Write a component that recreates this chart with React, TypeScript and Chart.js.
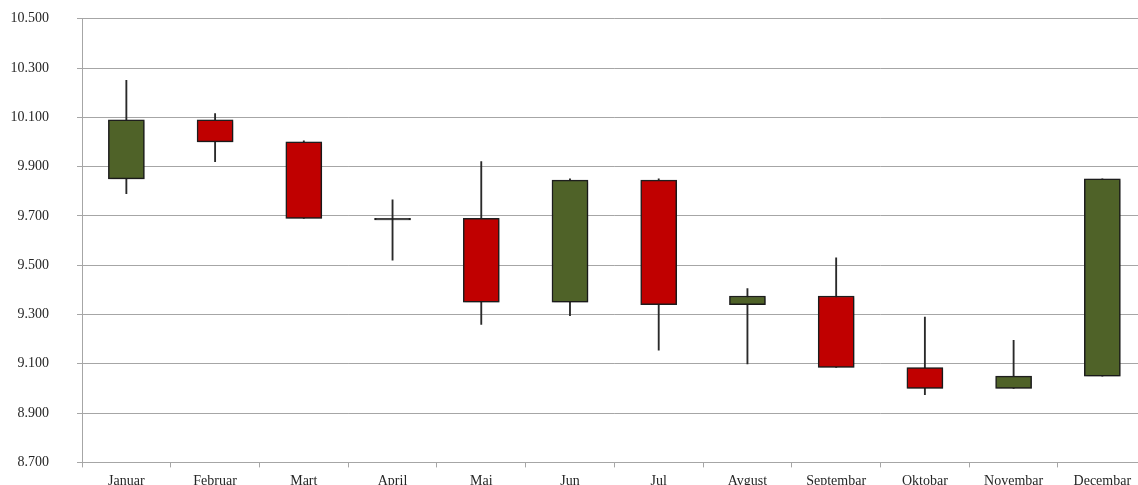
import React, { useEffect, useRef } from "react";
import { Chart, registerables } from "chart.js";

Chart.register(...registerables);

const categories = ["Januar", "Februar", "Mart", "April", "Mai", "Jun", "Jul", "Avgust", "Septembar", "Oktobar", "Novembar", "Decembar"];
const opens = [9850, 10090, 10000, 9690, 9690, 9350, 9845, 9340, 9375, 9085, 9000, 9050];
const closes = [10090, 10000, 9690, 9684, 9350, 9845, 9340, 9375, 9085, 9000, 9050, 9850];
const highs = [10250, 10115, 10005, 9765, 9920, 9850, 9850, 9405, 9530, 9290, 9195, 9850];
const lows = [9790, 9920, 9690, 9520, 9260, 9295, 9155, 9100, 9085, 8975, 9000, 9050];
const yTicks = { min: 8700, max: 10500, step: 200 };

const GREEN = "#4f6228";
const RED = "#c00000";
const DARK = "#1f1f1f";
const GRID = "#a6a6a6";
const FONT = { family: "'Liberation Serif', 'DejaVu Serif', serif", size: 14 };

const CW = 1150;
const CH = 500;

const fmt = (v: number) => Math.round(v).toString().replace(/\B(?=(\d{3})+(?!\d))/g, ".");

const shadowPlugin = {
  id: "bodyShadow",
  beforeDatasetDraw(chart: any, args: any) {
    if (args.index === 0) {
      const ctx = chart.ctx;
      ctx.save();
      ctx.shadowColor = "rgba(0,0,0,0.35)";
      ctx.shadowBlur = 3;
      ctx.shadowOffsetX = 1;
      ctx.shadowOffsetY = 1;
    }
  },
  afterDatasetDraw(chart: any, args: any) {
    if (args.index === 0) chart.ctx.restore();
  },
};

export default function App() {
  const ref = useRef<HTMLCanvasElement | null>(null);

  useEffect(() => {
    if (!ref.current) return;
    const chart = new Chart(ref.current, {
      type: "bar",
      data: {
        labels: categories,
        datasets: [
          {
            data: opens.map((o, i) => [o, closes[i]]) as any,
            backgroundColor: opens.map((o, i) =>
              Math.abs(closes[i] - o) < 10 ? DARK : closes[i] >= o ? GREEN : RED
            ),
            borderColor: DARK,
            borderWidth: 1.5,
            borderSkipped: false,
            barThickness: 36,
            grouped: false,
          },
          {
            data: lows.map((l, i) => [l, highs[i]]) as any,
            backgroundColor: "#2a2a2a",
            borderWidth: 0,
            barThickness: 1.2,
            grouped: false,
          },
        ],
      },
      options: {
        responsive: false,
        animation: false,
        layout: { padding: { top: 18.7, right: 3.3, left: 0, bottom: 0 } },
        plugins: { legend: { display: false }, tooltip: { enabled: false } },
        scales: {
          x: {
            offset: true,
            grid: { display: true, drawOnChartArea: false, drawTicks: true, tickLength: 5, color: GRID, offset: true },
            border: { display: true, color: GRID },
            ticks: { font: FONT, color: "#262626", padding: 6, maxRotation: 0, autoSkip: false },
            afterFit(s: any) {
              s.height = CH - 462.4;
            },
          },
          y: {
            min: yTicks.min,
            max: yTicks.max,
            ticks: {
              stepSize: yTicks.step,
              padding: 28,
              font: FONT,
              color: "#262626",
              callback: (v: any) => fmt(Number(v)),
            },
            grid: { color: GRID, tickLength: 5 },
            border: { display: true, color: GRID },
            afterFit(s: any) {
              s.width = 82;
              s.paddingTop = 0;
              s.paddingBottom = 0;
            },
          },
        },
      },
      plugins: [shadowPlugin],
    });
    return () => chart.destroy();
  }, []);

  return (
    <div style={{ position: "fixed", left: 0, top: 0, width: 1138, height: 485, overflow: "hidden", background: "#fff" }}>
      <canvas ref={ref} width={CW} height={CH} style={{ display: "block", width: CW, height: CH }} />
    </div>
  );
}
